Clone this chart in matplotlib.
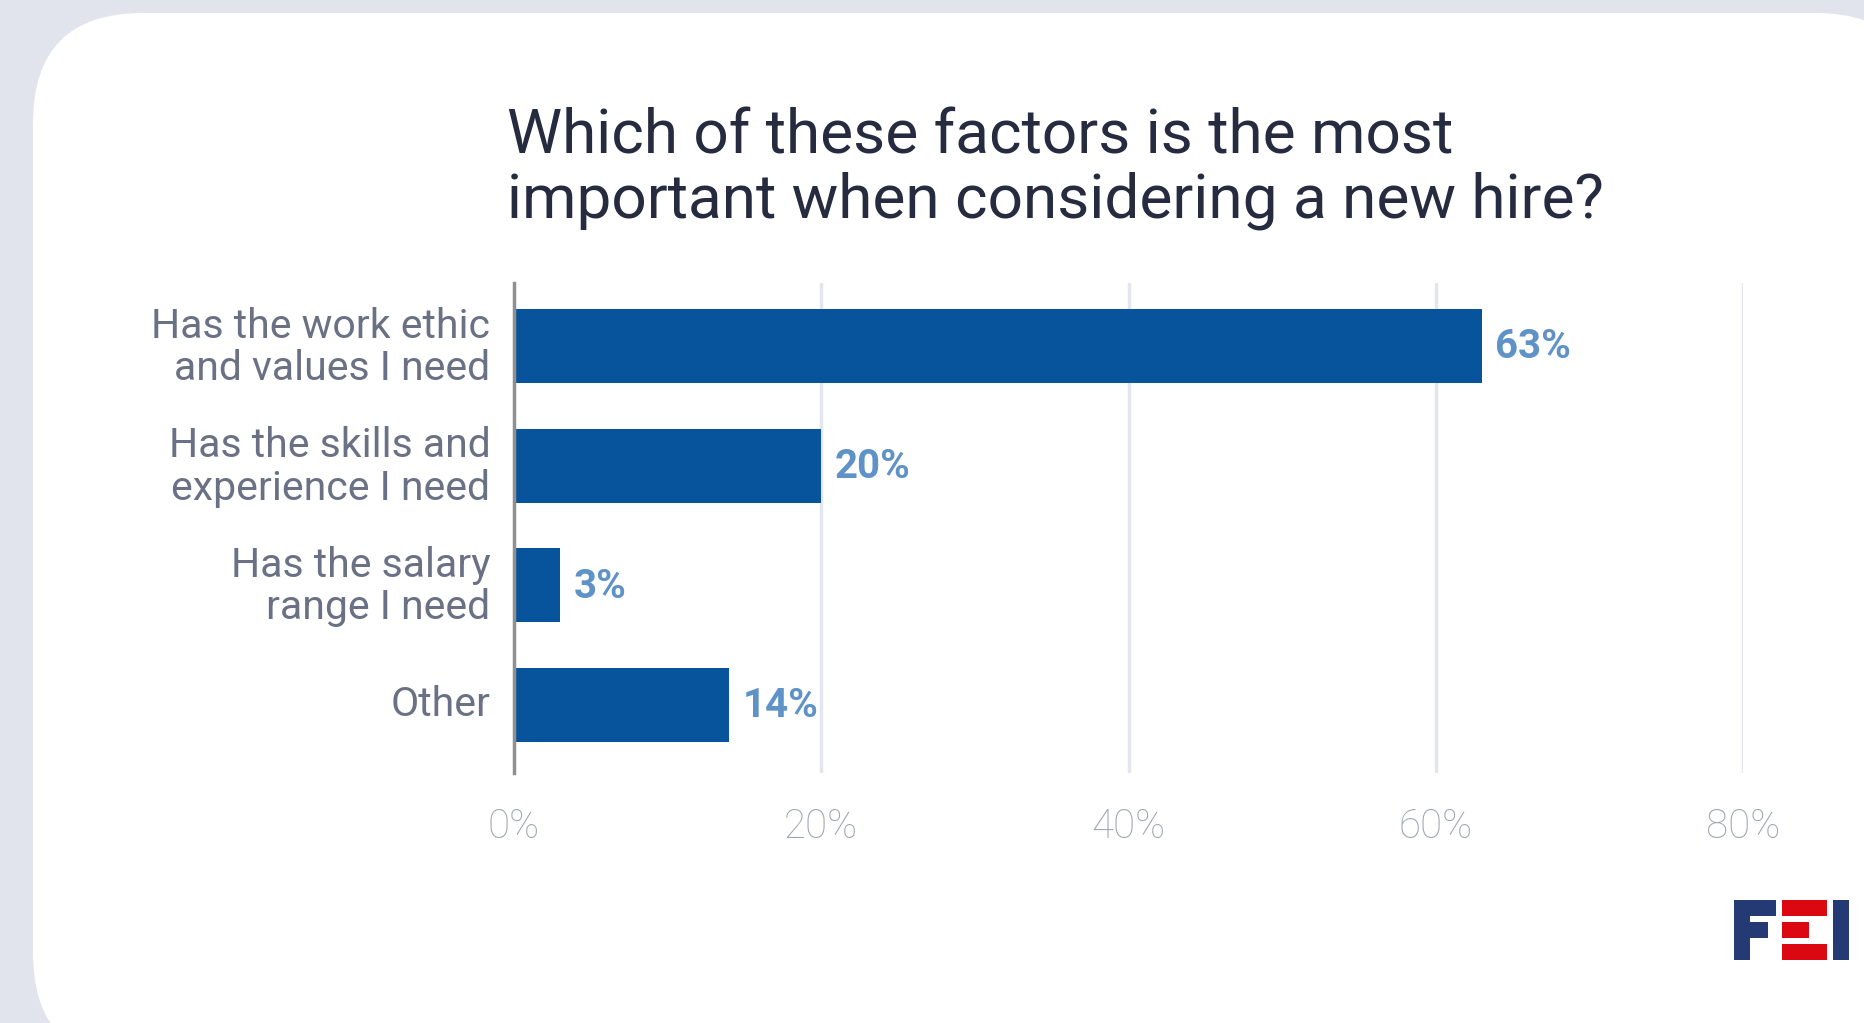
import matplotlib.pyplot as plt
from matplotlib.patches import FancyBboxPatch, Rectangle
from matplotlib.transforms import ScaledTranslation

categories = [
    "Has the work ethic\nand values I need",
    "Has the skills and\nexperience I need",
    "Has the salary\nrange I need",
    "Other",
]
shares = [63, 20, 3, 14]
xticks = [0, 20, 40, 60, 80]
title_lines = ["Which of these factors is the most", "important when considering a new hire?"]

W, H = 1865, 1023
BAR = "#08549c"
VALUE = "#5f92c6"
GRID = "#e3e6ef"
LABEL = "#6b7184"
TICK = "#9ea3b1"
TITLE = "#262b3f"
FONT = ["Roboto", "DejaVu Sans"]

fig = plt.figure(figsize=(W / 100, H / 100), dpi=100)
fig.patch.set_facecolor("#e1e4ed")

# white card with rounded corners, running off the right and bottom edges
card = FancyBboxPatch((33 / W, -40 / H), (W + 60 - 33) / W, (H + 40 - 13) / H,
                      boxstyle="round,pad=0,rounding_size=%f" % (110 / W),
                      mutation_aspect=W / H, transform=fig.transFigure,
                      facecolor="white", edgecolor="none", zorder=-10)
fig.patches.append(card)

ax = fig.add_axes([514 / W, (H - 773) / H, (1743 - 514) / W, (773 - 283) / H])
ax.set_facecolor("none")
ax.set_zorder(5)

y = list(range(len(categories)))
ax.barh(y, shares, height=0.62, color=BAR, zorder=3)
for yi, v in zip(y, shares):
    ax.annotate(f"{v}%", (v, yi), xytext=(9.5, -1), textcoords="offset points",
                ha="left", va="center", fontsize=29, fontweight="bold",
                color=VALUE, family=FONT)

ax.set_xlim(0, 80)
ax.set_ylim(3.568, -0.526)
ax.set_xticks(xticks)
ax.set_xticklabels([f"{t}%" for t in xticks], fontsize=29, color=TICK,
                   family=FONT, fontweight="light")
ax.set_yticks(y)
ax.set_yticklabels(categories, fontsize=29.5, color=LABEL, family=FONT,
                   linespacing=1.1, multialignment="right")
ax.tick_params(axis="y", length=0, pad=17)
ax.tick_params(axis="x", length=0, pad=25)
# nudge the category labels up a little so they sit centred on the bars
lift = ScaledTranslation(0, 3 / 72, fig.dpi_scale_trans)
for lbl in ax.get_yticklabels():
    lbl.set_transform(lbl.get_transform() + lift)

for t in xticks[1:]:
    ax.axvline(t, color=GRID, lw=2.5, zorder=1)
for side in ["top", "right", "bottom"]:
    ax.spines[side].set_visible(False)
ax.spines["left"].set_color("#909090")
ax.spines["left"].set_linewidth(2.5)
ax.spines["left"].set_zorder(4)

fig.text(507 / W, 1 - 153 / H, title_lines[0], fontsize=44.7, color=TITLE,
         family=FONT, va="baseline", ha="left")
fig.text(507 / W, 1 - 217 / H, title_lines[1], fontsize=44.7, color=TITLE,
         family=FONT, va="baseline", ha="left")

# FEI logo blocks (pixel boxes: x0, y0, x1, y1)
navy, red = "#233a75", "#dc0811"
logo = [
    (1734, 900, 1750, 960, navy), (1734, 900, 1776, 916, navy), (1734, 922, 1768, 938, navy),
    (1782, 900, 1827, 916, red), (1782, 922, 1809, 938, red), (1782, 944, 1827, 960, red),
    (1833, 900, 1849, 960, navy),
]
for x0, y0, x1, y1, c in logo:
    fig.patches.append(Rectangle((x0 / W, 1 - y1 / H), (x1 - x0) / W, (y1 - y0) / H,
                                 transform=fig.transFigure, facecolor=c, edgecolor="none"))

fig.savefig("out.png", dpi=100, facecolor=fig.get_facecolor())
